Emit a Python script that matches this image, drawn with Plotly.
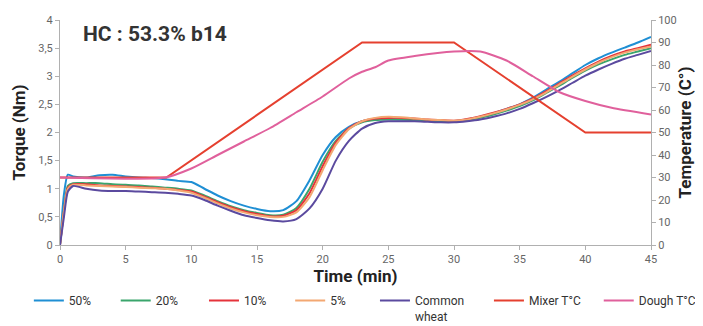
import plotly.graph_objects as go

time = [0, 0.3, 0.6, 1, 2, 3, 4, 5, 6, 7, 8, 9, 10, 11, 12, 13, 14, 15, 16, 17, 18, 19, 20,
        21, 22, 23, 24, 25, 26, 27, 28, 29, 30, 31, 32, 33, 34, 35, 36, 37, 38, 39, 40,
        41, 42, 43, 44, 45]

t50 = [0, 0.9, 1.25, 1.22, 1.2, 1.24, 1.25, 1.22, 1.2, 1.19, 1.17, 1.14, 1.12, 1.0, 0.88, 0.78,
       0.7, 0.64, 0.6, 0.62, 0.78, 1.15, 1.6, 1.92, 2.1, 2.2, 2.23, 2.24, 2.23, 2.22, 2.21, 2.2,
       2.2, 2.23, 2.28, 2.34, 2.42, 2.5, 2.62, 2.76, 2.9, 3.05, 3.2, 3.32, 3.42, 3.51, 3.6, 3.7]
t20 = [0, 0.6, 1.05, 1.1, 1.1, 1.1, 1.08, 1.07, 1.06, 1.04, 1.02, 1.0, 0.97, 0.88, 0.78, 0.69,
       0.62, 0.57, 0.53, 0.54, 0.66, 1.0, 1.48, 1.85, 2.07, 2.18, 2.22, 2.23, 2.23, 2.22, 2.21, 2.2,
       2.2, 2.22, 2.26, 2.32, 2.39, 2.47, 2.57, 2.7, 2.83, 2.97, 3.1, 3.21, 3.3, 3.38, 3.44, 3.5]
t10 = [0, 0.6, 1.02, 1.08, 1.08, 1.06, 1.05, 1.04, 1.03, 1.02, 1.0, 0.98, 0.95, 0.86, 0.76, 0.67,
       0.6, 0.55, 0.51, 0.52, 0.62, 0.92, 1.4, 1.82, 2.08, 2.2, 2.25, 2.26, 2.26, 2.25, 2.23, 2.22,
       2.21, 2.24, 2.29, 2.35, 2.42, 2.5, 2.6, 2.73, 2.87, 3.01, 3.14, 3.26, 3.36, 3.44, 3.5, 3.56]
t5 = [0, 0.6, 1.0, 1.07, 1.06, 1.05, 1.04, 1.03, 1.02, 1.01, 1.0, 0.97, 0.93, 0.84, 0.74, 0.65,
      0.58, 0.53, 0.5, 0.5, 0.58, 0.85, 1.33, 1.78, 2.06, 2.2, 2.26, 2.28, 2.27, 2.25, 2.23, 2.22,
      2.21, 2.23, 2.28, 2.34, 2.41, 2.49, 2.59, 2.71, 2.85, 2.99, 3.12, 3.24, 3.34, 3.42, 3.48, 3.53]
tcw = [0, 0.5, 0.95, 1.05, 1.0, 0.97, 0.96, 0.96, 0.95, 0.94, 0.93, 0.91, 0.88, 0.8, 0.7, 0.61,
       0.53, 0.48, 0.44, 0.42, 0.46, 0.65, 1.0, 1.5, 1.85, 2.07, 2.17, 2.2, 2.2, 2.2, 2.19, 2.18,
       2.18, 2.2, 2.23, 2.28, 2.34, 2.42, 2.52, 2.63, 2.75, 2.88, 3.01, 3.12, 3.22, 3.31, 3.38, 3.45]

mixer_time = [0, 8.1, 23, 30, 40, 45]
mixer_temp = [30, 30, 90, 90, 50, 50]

dough_time = [0, 8, 10, 12, 14, 16, 18, 20, 22, 23, 24, 25, 27, 30, 32, 34, 36, 38, 40, 42, 45]
dough_temp = [30, 30, 34, 40, 46, 52, 59, 66, 74, 77, 79, 82, 84, 86, 86, 82, 75, 68, 64, 61, 58]

x_ticks = [0, 5, 10, 15, 20, 25, 30, 35, 40, 45]

FONT = "Roboto, Liberation Sans, Arial"

# one legend per entry so each sits where the reference places it
legend_x = [0.030, 0.155, 0.282, 0.406, 0.528, 0.692, 0.850]

fig = go.Figure()
torque_series = [
    ("50%", t50, "#1f8fd4"),
    ("20%", t20, "#3aa56c"),
    ("10%", t10, "#e5333b"),
    ("5%", t5, "#f3a872"),
    ("Common<br>wheat", tcw, "#5b4a9f"),
]
legend_ids = ["legend", "legend2", "legend3", "legend4", "legend5", "legend6", "legend7"]
for i, (name, vals, col) in enumerate(torque_series):
    fig.add_trace(go.Scatter(x=time, y=vals, name=name, mode="lines", legend=legend_ids[i],
                             line=dict(color=col, width=2, shape="spline", smoothing=0.6)))

fig.add_trace(go.Scatter(x=mixer_time, y=mixer_temp, name="Mixer T°C", mode="lines",
                         legend=legend_ids[5],
                         line=dict(color="#e5402f", width=2), yaxis="y2"))
fig.add_trace(go.Scatter(x=dough_time, y=dough_temp, name="Dough T°C", mode="lines",
                         legend=legend_ids[6],
                         line=dict(color="#e0609c", width=2, shape="spline", smoothing=0.6),
                         yaxis="y2"))

axis_common = dict(showgrid=False, zeroline=False, showline=True, linecolor="#b0b0b0",
                   linewidth=1, ticks="outside", ticklen=4, tickcolor="#b0b0b0",
                   automargin=False,
                   tickfont=dict(family=FONT, size=11, color="#666666"))

title_font = dict(family=FONT, size=17, color="#222222")
legend_common = dict(orientation="h", xref="container", yref="container",
                     xanchor="left", yanchor="top", valign="top", y=0.125,
                     font=dict(family=FONT, size=12, color="#333333"),
                     itemclick=False, tracegroupgap=0, bgcolor="rgba(0,0,0,0)")

legends = {lid: dict(x=lx, **legend_common) for lid, lx in zip(legend_ids, legend_x)}

fig.update_layout(
    width=695, height=318,
    margin=dict(l=52, r=52, t=12, b=81, pad=0),
    plot_bgcolor="white", paper_bgcolor="white",
    separators=",.",
    font=dict(family=FONT),
    showlegend=True,
    xaxis=dict(range=[0, 45], tickvals=x_ticks,
               title=dict(text="<b>Time (min)</b>", font=title_font, standoff=12),
               **axis_common),
    yaxis=dict(range=[0, 4], dtick=0.5,
               title=dict(text="<b>Torque (Nm)</b>", font=title_font, standoff=8),
               **axis_common),
    yaxis2=dict(range=[0, 100], dtick=10, overlaying="y", side="right",
                title=dict(text="<b>Temperature (C°)</b>", font=title_font, standoff=3),
                **axis_common),
    annotations=[dict(text="<b>HC : 53.3% b14</b>", x=0.035, y=1.0, xref="paper", yref="paper",
                      xanchor="left", yanchor="top", showarrow=False,
                      font=dict(family=FONT, size=21, color="#333333"))],
    **legends,
)

fig.write_html("out.html")
